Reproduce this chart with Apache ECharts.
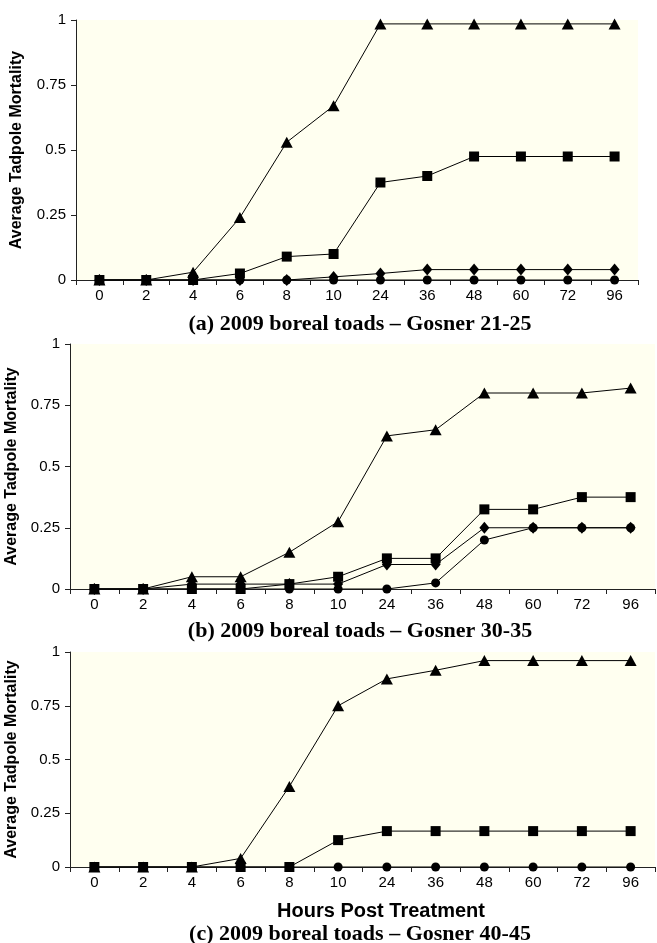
<!DOCTYPE html>
<html>
<head>
<meta charset="utf-8">
<script src="https://cdn.jsdelivr.net/npm/echarts@6/dist/echarts.min.js"></script>
<style>
  html, body { margin: 0; padding: 0; background: #fff; }
  #chart { width: 657px; height: 943px; }
</style>
</head>
<body>
<div id="chart"></div>
<script>
// hours post treatment (category axis)
var hours = ["0", "2", "4", "6", "8", "10", "24", "36", "48", "60", "72", "96"];

// (a) Gosner 21-25
var aTriangle = [0, 0, 0.03, 0.24, 0.53, 0.67, 0.985, 0.985, 0.985, 0.985, 0.985, 0.985];
var aSquare   = [0, 0, 0, 0.025, 0.09, 0.10, 0.375, 0.40, 0.475, 0.475, 0.475, 0.475];
var aDiamond  = [0, 0, 0, 0, 0, 0.012, 0.025, 0.04, 0.04, 0.04, 0.04, 0.04];
var aCircle   = [0, 0, 0, 0, 0, 0, 0, 0, 0, 0, 0, 0];

// (b) Gosner 30-35
var bTriangle = [0, 0, 0.05, 0.05, 0.15, 0.275, 0.625, 0.65, 0.80, 0.80, 0.80, 0.82];
var bSquare   = [0, 0, 0, 0, 0.02, 0.05, 0.125, 0.125, 0.325, 0.325, 0.375, 0.375];
var bDiamond  = [0, 0, 0.02, 0.02, 0.02, 0.02, 0.10, 0.10, 0.25, 0.25, 0.25, 0.25];
var bCircle   = [0, 0, 0, 0, 0, 0, 0, 0.025, 0.20, 0.25, 0.25, 0.25];

// (c) Gosner 40-45 (no diamond visible)
var cTriangle = [0, 0, 0, 0.04, 0.375, 0.75, 0.875, 0.915, 0.96, 0.96, 0.96, 0.96];
var cSquare   = [0, 0, 0, 0, 0, 0.125, 0.167, 0.167, 0.167, 0.167, 0.167, 0.167];
var cCircle   = [0, 0, 0, 0, 0, 0, 0, 0, 0, 0, 0, 0];

var titles = [
  "(a) 2009 boreal toads \u2013 Gosner 21-25",
  "(b) 2009 boreal toads \u2013 Gosner 30-35",
  "(c) 2009 boreal toads \u2013 Gosner 40-45"
];

var myChart = echarts.init(document.getElementById("chart"), null, { width: 657, height: 943 });

var grids = [
  { left: 76, top: 20, width: 562, height: 260 },
  { left: 70, top: 344, width: 585, height: 245 },
  { left: 70, top: 652, width: 585, height: 215 }
];
var nameGaps = [51, 46, 46];

var diamond = { symbol: "diamond", size: [10, 12] };
var circle = { symbol: "circle", size: 9 };
var triangle = { symbol: "triangle", size: [12, 11] };
var square = { symbol: "rect", size: 10 };

// drawing order: later ones on top
var panels = [
  [[aDiamond, diamond], [aCircle, circle], [aTriangle, triangle], [aSquare, square]],
  [[bDiamond, diamond], [bCircle, circle], [bTriangle, triangle], [bSquare, square]],
  [[cCircle, circle], [cTriangle, triangle], [cSquare, square]]
];

var xAxes = [], yAxes = [], series = [];
var tickFont = "Liberation Sans, Arial, sans-serif";

grids.forEach(function (g, i) {
  g.show = true;
  g.backgroundColor = "#FFFFF0";
  g.borderWidth = 0;
  g.containLabel = false;
  g.outerBoundsMode = "none";
  xAxes.push({
    type: "category",
    gridIndex: i,
    data: hours,
    boundaryGap: true,
    axisLine: { lineStyle: { color: "#222", width: 1 } },
    axisTick: { show: true, length: 5, lineStyle: { color: "#222" } },
    axisLabel: { margin: 8, fontFamily: tickFont, fontSize: 15, color: "#000" },
    splitLine: { show: false }
  });
  yAxes.push({
    type: "value",
    gridIndex: i,
    min: 0,
    max: 1,
    interval: 0.25,
    name: "Average Tadpole Mortality",
    nameLocation: "middle",
    nameGap: nameGaps[i],
    nameTextStyle: { fontFamily: tickFont, fontWeight: "bold", fontSize: 16, color: "#000" },
    axisLine: { show: true, lineStyle: { color: "#222", width: 1 } },
    axisTick: { show: true, length: 5, lineStyle: { color: "#222" } },
    axisLabel: { margin: 10, fontFamily: tickFont, fontSize: 15, color: "#000" },
    splitLine: { show: false }
  });
  panels[i].forEach(function (p, k) {
    series.push({
      type: "line",
      xAxisIndex: i,
      yAxisIndex: i,
      data: p[0],
      symbol: p[1].symbol,
      symbolSize: p[1].size,
      showAllSymbol: true,
      lineStyle: { color: "#000", width: 1 },
      itemStyle: { color: "#000" },
      z: 2 + k
    });
  });
});

var titleY = [308, 615, 918];
var titleList = titles.map(function (t, i) {
  return {
    text: t,
    left: 355,
    top: titleY[i],
    textAlign: "center",
    textStyle: { fontFamily: "Liberation Serif, Times New Roman, serif", fontWeight: "bold", fontSize: 22, color: "#000" }
  };
});
titleList.push({
  text: "Hours Post Treatment",
  left: 376,
  top: 896,
  textAlign: "center",
  textStyle: { fontFamily: tickFont, fontWeight: "bold", fontSize: 20, color: "#000" }
});

var option = {
  backgroundColor: "#fff",
  animation: false,
  title: titleList,
  grid: grids,
  xAxis: xAxes,
  yAxis: yAxes,
  series: series
};
myChart.setOption(option);
</script>
</body>
</html>
